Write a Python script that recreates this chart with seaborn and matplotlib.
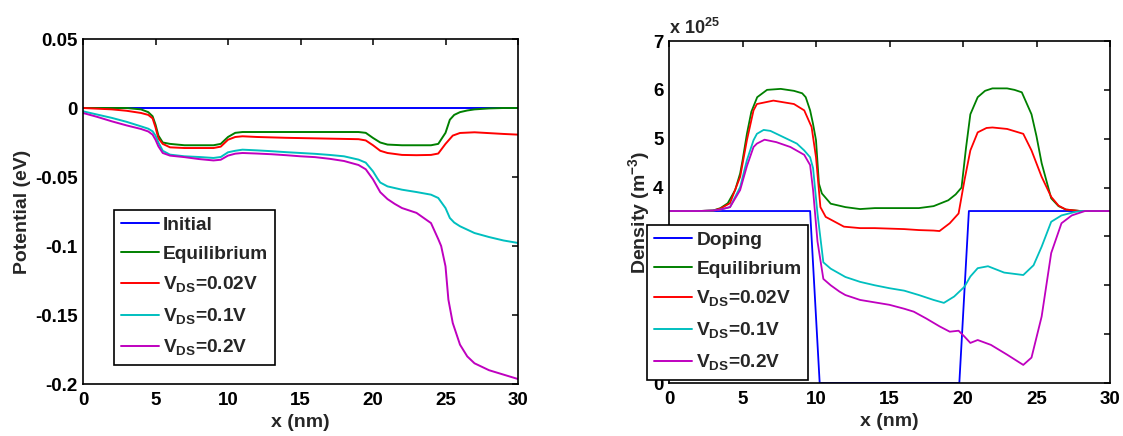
import numpy as np
import pandas as pd
import matplotlib
matplotlib.use("Agg")
import matplotlib.pyplot as plt
import seaborn as sns
from matplotlib.ticker import FuncFormatter

# ---------------- data: potential (left panel) ----------------
pot_labels = ["Initial", "Equilibrium", "V$_{\\rm DS}$=0.02V", "V$_{\\rm DS}$=0.1V", "V$_{\\rm DS}$=0.2V"]

pot_init_x = [0, 30]
pot_init_v = [0, 0]

pot_eq_x = [0, 1, 2, 3, 3.5, 4, 4.5, 4.8, 5.0, 5.2, 5.5, 6, 7, 8, 9, 9.5, 10, 10.5, 11, 12, 13, 14, 15, 16, 17, 18, 19,
            19.5, 20, 20.5, 21, 22, 23, 24, 24.5, 25, 25.3, 25.6, 26, 26.5, 27, 28, 29, 30]
pot_eq_v = [0, 0, 0, 0, -0.0005, -0.001, -0.003, -0.006, -0.012, -0.02, -0.025, -0.026, -0.027, -0.027, -0.027, -0.026,
            -0.021, -0.018, -0.0174, -0.0174, -0.0174, -0.0174, -0.0174, -0.0174, -0.0174, -0.0174, -0.0174,
            -0.018, -0.0217, -0.025, -0.0265, -0.027, -0.027, -0.027, -0.026, -0.018, -0.0085, -0.005, -0.003,
            -0.0018, -0.001, -0.0003, 0, 0]

pot_v002_x = [0, 1, 2, 3, 4, 4.5, 4.8, 5.0, 5.2, 5.5, 6, 7, 8, 9, 9.5, 10, 10.5, 11, 12, 13, 14, 15, 16, 17, 18, 19,
              19.5, 20, 20.5, 21, 22, 23, 24, 24.5, 25, 25.5, 26, 27, 28, 29, 30]
pot_v002_v = [0, -0.0005, -0.001, -0.002, -0.0036, -0.005, -0.0075, -0.014, -0.022, -0.026, -0.0285, -0.029, -0.029,
              -0.029, -0.028, -0.023, -0.021, -0.0205, -0.021, -0.0213, -0.0216, -0.0218, -0.022, -0.0222, -0.0224,
              -0.0226, -0.0235, -0.027, -0.031, -0.0326, -0.034, -0.0342, -0.034, -0.033, -0.026, -0.02, -0.0181,
              -0.0176, -0.0182, -0.0188, -0.0193]

pot_v01_x = [0, 1, 2, 3, 4, 4.5, 4.8, 5.0, 5.2, 5.5, 6, 7, 8, 9, 9.5, 10, 10.5, 11, 12, 13, 14, 15, 16, 17, 18, 19,
             19.5, 20, 20.3, 20.5, 21, 22, 23, 24, 24.5, 25, 25.3, 25.6, 26, 27, 28, 29, 30]
pot_v01_v = [-0.0024, -0.0048, -0.0072, -0.010, -0.0133, -0.015, -0.0169, -0.020, -0.025, -0.031, -0.0338, -0.035,
             -0.0355, -0.0362, -0.0355, -0.0321, -0.031, -0.0302, -0.0307, -0.0313, -0.032, -0.0326, -0.0332,
             -0.034, -0.035, -0.0374, -0.0396, -0.0459, -0.051, -0.054, -0.0568, -0.0592, -0.0609, -0.0628,
             -0.0652, -0.0725, -0.0797, -0.083, -0.0857, -0.0906, -0.0935, -0.096, -0.0978]

pot_v02_x = [0, 1, 2, 3, 4, 4.5, 4.8, 5.0, 5.2, 5.5, 6, 7, 8, 9, 9.5, 10, 10.5, 11, 12, 13, 14, 15, 16, 17, 18, 19,
             19.5, 20, 20.5, 21, 21.5, 22, 23, 24, 24.5, 24.7, 25, 25.2, 25.5, 26, 26.5, 27, 28, 29, 30]
pot_v02_v = [-0.0036, -0.0065, -0.0097, -0.0126, -0.0152, -0.017, -0.0193, -0.023, -0.0278, -0.0326, -0.0345,
             -0.0356, -0.037, -0.038, -0.0375, -0.0345, -0.0331, -0.0326, -0.033, -0.0335, -0.0342, -0.035,
             -0.0356, -0.0368, -0.0384, -0.0413, -0.0444, -0.0517, -0.061, -0.066, -0.0695, -0.0725, -0.076,
             -0.0834, -0.095, -0.1, -0.1147, -0.1389, -0.1558, -0.1715, -0.18, -0.185, -0.19, -0.1932, -0.1964]

# ---------------- data: density (right panel, units of 1e25 m^-3) ----------------
den_labels = ["Doping", "Equilibrium", "V$_{\\rm DS}$=0.02V", "V$_{\\rm DS}$=0.1V", "V$_{\\rm DS}$=0.2V"]
den_scale = 1e25

den_dop_x = [0, 9.6, 10.25, 19.75, 20.4, 30]
den_dop_v = [3.52, 3.52, 0, 0, 3.52, 3.52]

den_eq_x = [0, 1, 2, 3, 3.5, 4, 4.5, 4.84, 5.0, 5.3, 5.6, 6, 6.67, 7.6, 8.5, 9.06, 9.3, 9.6, 9.8, 10.0, 10.2, 10.4,
            11, 12, 13, 14, 15, 16, 17, 18, 18.5, 19, 19.5, 19.9, 20.2, 20.5, 21, 21.5, 22, 23, 23.5, 24, 24.66,
            25, 25.35, 26, 26.5, 27, 28, 29, 30]
den_eq_v = [3.52, 3.52, 3.52, 3.53, 3.58, 3.68, 3.95, 4.29, 4.55, 5.1, 5.55, 5.85, 6.0, 6.02, 5.98, 5.93, 5.85, 5.58,
            5.3, 4.97, 4.08, 3.88, 3.67, 3.6, 3.56, 3.58, 3.58, 3.58, 3.58, 3.62, 3.68, 3.74, 3.86, 4.0, 4.8, 5.5,
            5.85, 5.98, 6.03, 6.03, 6.0, 5.95, 5.5, 5.05, 4.5, 3.78, 3.62, 3.55, 3.52, 3.52, 3.52]

den_v002_x = [0, 1, 2, 3, 3.5, 4.15, 4.84, 5.3, 5.75, 5.98, 7.1, 8.5, 9.2, 9.7, 10.0, 10.3, 10.66, 11.9, 13, 14, 15,
              16, 17, 18, 18.4, 19.1, 19.7, 20.1, 20.5, 21, 21.6, 22, 23, 24.1, 24.66, 25.35, 26, 26.5, 27, 28, 29, 30]
den_v002_v = [3.52, 3.52, 3.52, 3.53, 3.57, 3.68, 4.22, 4.97, 5.58, 5.71, 5.78, 5.71, 5.58, 5.24, 4.62, 3.6, 3.4, 3.2,
              3.17, 3.17, 3.16, 3.15, 3.13, 3.12, 3.11, 3.27, 3.47, 4.15, 4.76, 5.13, 5.22, 5.23, 5.2, 5.1, 4.76,
              4.22, 3.81, 3.63, 3.55, 3.52, 3.52, 3.52]

den_v01_x = [0, 1, 2, 3, 3.5, 4.15, 4.84, 5.3, 5.75, 5.98, 6.44, 6.9, 7.8, 8.7, 9.2, 9.6, 9.8, 10.1, 10.5, 11, 12, 13,
             14, 15, 16, 17, 18, 18.7, 19.4, 20.1, 20.5, 21, 21.7, 22.8, 24.1, 24.8, 25.35, 26, 26.7, 27.6, 28, 29, 30]
den_v01_v = [3.52, 3.52, 3.52, 3.53, 3.55, 3.6, 4.01, 4.56, 4.97, 5.1, 5.18, 5.16, 5.03, 4.9, 4.76, 4.62, 4.4, 3.47,
             2.47, 2.34, 2.17, 2.07, 2.0, 1.94, 1.89, 1.8, 1.7, 1.64, 1.77, 1.97, 2.18, 2.35, 2.39, 2.26, 2.21,
             2.41, 2.79, 3.3, 3.43, 3.5, 3.52, 3.52, 3.52]

den_v02_x = [0, 1, 2, 3, 3.5, 4.15, 4.84, 5.3, 5.75, 5.98, 6.5, 7.3, 8.26, 9.2, 9.6, 9.8, 10.1, 10.5, 11, 11.6, 12,
             13, 14, 15, 16, 16.65, 17.5, 18.4, 19.1, 19.7, 20.1, 20.5, 21, 21.9, 23, 24.1, 24.66, 25.35, 26, 26.7,
             27.4, 28.3, 29, 30]
den_v02_v = [3.52, 3.52, 3.52, 3.53, 3.55, 3.6, 3.95, 4.44, 4.83, 4.9, 4.98, 4.93, 4.83, 4.67, 4.46, 3.95, 2.9, 2.13,
             2.0, 1.87, 1.8, 1.7, 1.65, 1.6, 1.52, 1.46, 1.32, 1.16, 1.05, 1.07, 0.95, 0.82, 0.88, 0.78, 0.58,
             0.37, 0.52, 1.36, 2.66, 3.27, 3.43, 3.52, 3.52, 3.52]

colors = ["#0000ff", "#008000", "#ff0000", "#00bfbf", "#bf00bf"]

# ---------------- style ----------------
sns.set_theme(style="white")
plt.rcParams["font.family"] = ["Liberation Sans", "DejaVu Sans"]
plt.rcParams["font.weight"] = "bold"
plt.rcParams["axes.labelweight"] = "bold"
plt.rcParams["mathtext.fontset"] = "custom"
plt.rcParams["mathtext.rm"] = "Liberation Sans"
plt.rcParams["mathtext.bf"] = "Liberation Sans:bold"
plt.rcParams["axes.edgecolor"] = "black"
plt.rcParams["axes.linewidth"] = 1.2

W, H = 1123, 436
fig = plt.figure(figsize=(W / 100, H / 100), dpi=100)
fig.patch.set_facecolor("white")


def rect(x0, y0, x1, y1):
    return [x0 / W, 1 - y1 / H, (x1 - x0) / W, (y1 - y0) / H]


ax1 = fig.add_axes(rect(83, 39, 518, 384))
ax2 = fig.add_axes(rect(669, 41, 1110, 383))


def long_df(xs, vs, labels, scale=1.0):
    frames = []
    for i, (x, v, lab) in enumerate(zip(xs, vs, labels)):
        frames.append(pd.DataFrame({"x": x, "y": np.asarray(v, float) * scale, "series": lab, "order": i}))
    return pd.concat(frames, ignore_index=True)


df1 = long_df([pot_init_x, pot_eq_x, pot_v002_x, pot_v01_x, pot_v02_x],
              [pot_init_v, pot_eq_v, pot_v002_v, pot_v01_v, pot_v02_v], pot_labels)
df2 = long_df([den_dop_x, den_eq_x, den_v002_x, den_v01_x, den_v02_x],
              [den_dop_v, den_eq_v, den_v002_v, den_v01_v, den_v02_v], den_labels, den_scale)

sns.lineplot(data=df1, x="x", y="y", hue="series", hue_order=pot_labels, palette=colors,
             sort=False, estimator=None, linewidth=1.4, ax=ax1)
sns.lineplot(data=df2, x="x", y="y", hue="series", hue_order=den_labels, palette=colors,
             sort=False, estimator=None, linewidth=1.3, ax=ax2)

label_fs = 14
tick_fs = 13.5

# axes setup
ax1.set_xlim(0, 30)
ax1.set_ylim(-0.2, 0.05)
ax1.set_xticks([0, 5, 10, 15, 20, 25, 30])
ax1.set_yticks([-0.2, -0.15, -0.1, -0.05, 0, 0.05])
ax1.yaxis.set_major_formatter(FuncFormatter(lambda v, p: f"{v:g}"))
ax1.set_xlabel("x (nm)", fontsize=label_fs, labelpad=3)
ax1.set_ylabel("Potential (eV)", fontsize=label_fs, labelpad=3)

ax2.set_xlim(0, 30)
ax2.set_ylim(0, 7 * den_scale)
ax2.set_xticks([0, 5, 10, 15, 20, 25, 30])
ax2.set_yticks([i * den_scale for i in range(8)])
ax2.yaxis.set_major_formatter(FuncFormatter(lambda v, p: f"{v / den_scale:g}"))
ax2.set_xlabel("x (nm)", fontsize=label_fs, labelpad=3)
ax2.set_ylabel("Density (m$^{-3}$)", fontsize=label_fs, labelpad=0)
ax2.text(0.0, 1.008, "x 10$^{\\rm 25}$", transform=ax2.transAxes, ha="left", va="bottom",
         fontsize=13, fontweight="bold")

for ax in (ax1, ax2):
    ax.tick_params(direction="in", top=True, right=True, length=4, width=1.1,
                   labelsize=tick_fs, colors="black")
    ax.tick_params(axis="x", pad=6)
    ax.tick_params(axis="y", pad=4)
    for s in ax.spines.values():
        s.set_color("black")
        s.set_linewidth(1.2)
    ax.grid(False)

leg_kw = dict(loc="lower left", frameon=True, fancybox=False, shadow=False, borderaxespad=0,
              handlelength=2.0, handletextpad=0.2, labelspacing=0.6, borderpad=0.35,
              prop={"size": 13.8, "weight": "bold"}, title=None)

ax1.legend(bbox_to_anchor=(0.072, 0.055), **leg_kw)
ax2.legend(bbox_to_anchor=(-0.049, 0.0097), **leg_kw)
for ax in (ax1, ax2):
    lg = ax.get_legend()
    lg.get_frame().set_edgecolor("black")
    lg.get_frame().set_linewidth(1.2)
    lg.get_frame().set_facecolor("white")
    lg.get_frame().set_alpha(1.0)
    lg.set_zorder(10)
    for line in lg.get_lines():
        line.set_linewidth(1.4)

fig.savefig("out.png", dpi=100, facecolor="white")
